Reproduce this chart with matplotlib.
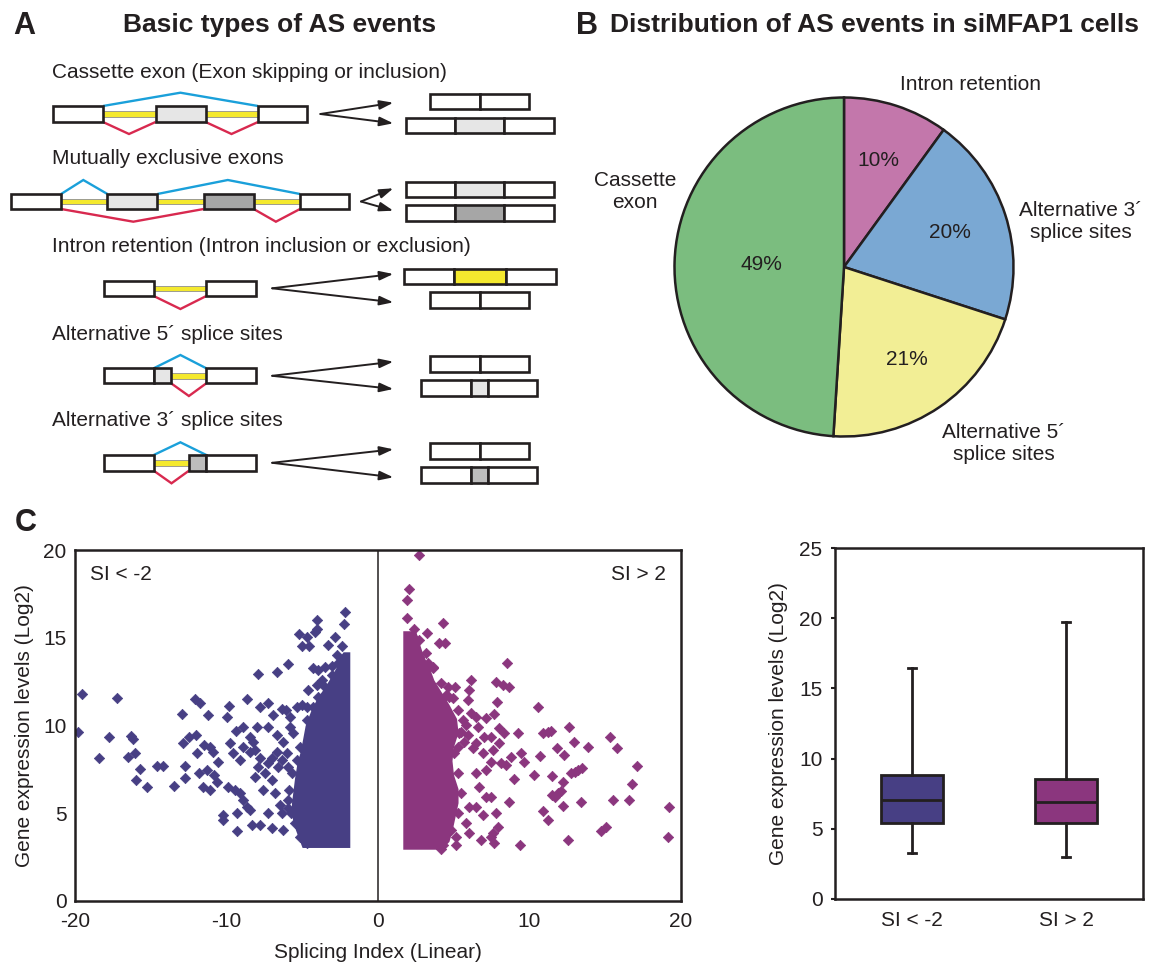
import matplotlib
matplotlib.use("Agg")
import matplotlib.pyplot as plt
from matplotlib.patches import Rectangle
import numpy as np

plt.rcParams["font.family"] = ["Liberation Sans", "DejaVu Sans"]
plt.rcParams["axes.unicode_minus"] = False
INK = "#231F20"

# ---------------- data ----------------
# B: distribution of AS event types
pie_labels = ["Intron retention", "Alternative 3\u00b4\nsplice sites",
              "Alternative 5\u00b4\nsplice sites", "Cassette\nexon"]
pie_values = [10, 20, 21, 49]
pie_colors = ["#C377AB", "#7AA8D3", "#F2EE95", "#7BBD7F"]

# C: individual events outside the dense core (SI, log2 expression)
left_x = [-19.56, -19.82, -17.25, -17.73, -18.39, -16.30, -16.15, -16.04, -16.52, -15.71,
          -15.99, -15.22, -14.61, -14.21, -13.44, -12.95, -12.85, -12.73, -12.73, -12.45,
          -12.03, -11.96, -12.07, -11.74, -11.24, -11.79, -11.30, -11.52, -11.08, -11.46,
          -11.08, -10.86, -10.80, -10.53, -10.64,
          -2.17, -2.23, -4.04, -5.18, -4.70, -4.15, -4.00, -5.03, -4.52, -2.83,
          -3.27, -2.39, -2.72, -2.28, -5.91, -6.64, -7.89, -4.26, -3.93, -3.49,
          -3.05, -4.59, -4.04, -3.71, -8.66, -9.81, -9.98, -7.78, -7.23, -6.90,
          -6.35, -6.06, -5.80, -5.36, -5.03, -4.70, -9.37, -8.93, -8.00, -8.44,
          -8.22, -7.23, -6.68, -6.24, -5.80, -5.58, -9.76, -9.54, -9.10, -8.88,
          -8.44, -8.11, -7.78, -9.87, -9.43, -9.10, -8.88, -8.66, -10.20, -10.20,
          -9.32, -8.44, -9.32, -8.33, -7.78, -7.23, -7.01, -7.56, -7.01, -6.79,
          -7.89, -8.11, -7.45, -7.23, -6.57, -6.68, -7.01, -6.35, -6.02, -5.91,
          -6.46, -6.35, -5.91, -6.24, -5.14, -4.70, -4.48, -4.04,
          -5.14, -5.36, -5.69, -5.84, -5.91, -5.75, -5.47, -5.14, -4.70, -4.26,
          -3.93, -3.49, -3.05, -2.61]
left_y = [11.78, 9.65, 11.59, 9.33, 8.13, 9.40, 9.21, 8.45, 8.22, 7.50,
          6.89, 6.48, 7.71, 7.71, 6.55, 10.66, 9.02, 7.69, 6.99, 9.36,
          9.46, 8.42, 11.49, 11.30, 10.60, 7.31, 7.46, 6.51, 6.32, 8.89,
          8.79, 8.51, 7.18, 7.94, 6.80,
          16.48, 15.76, 16.01, 15.21, 15.06, 15.35, 15.48, 14.53, 14.53, 15.02,
          14.59, 14.53, 14.02, 13.83, 13.50, 13.03, 12.92, 13.26, 13.16, 13.32,
          13.39, 12.02, 12.31, 12.59, 11.49, 11.13, 10.50, 11.07, 11.30, 10.60,
          10.96, 10.88, 10.50, 11.07, 11.17, 11.07, 9.70, 9.89, 9.93, 9.36,
          9.08, 9.93, 9.46, 9.08, 9.93, 9.56, 8.99, 8.42, 8.03, 8.79,
          8.51, 8.60, 8.13, 6.51, 6.32, 6.14, 5.76, 5.37, 4.90, 4.62,
          5.00, 5.19, 4.01, 4.33, 4.33, 5.00, 4.14, 6.32, 6.89, 6.14,
          7.65, 7.08, 7.28, 7.85, 7.65, 8.51, 8.13, 8.03, 8.42, 7.65,
          5.47, 5.00, 5.28, 4.05, 4.23, 3.29, 3.86, 3.48,
          8.79, 8.03, 7.28, 6.32, 5.75, 5.00, 4.43, 3.67, 10.31, 11.07,
          11.64, 12.21, 12.88, 13.54]

right_x = [2.70, 2.08, 1.91, 1.91, 4.29, 3.25, 4.02, 4.44, 2.41, 2.08,
           2.52, 2.74, 3.30, 3.63, 8.53, 6.16, 6.05, 5.94, 7.81, 8.25,
           8.65, 4.61, 5.12, 4.94, 4.50, 7.85, 6.16, 6.49, 7.15, 7.70,
           5.83, 5.50, 5.94, 6.60, 7.04, 7.48, 8.03, 8.36, 9.24, 5.28,
           5.71, 6.27, 6.49, 6.93, 7.59, 8.03, 9.46, 9.68, 8.80, 8.47,
           8.14, 7.48, 10.30, 9.02, 6.49, 7.15, 6.71, 7.15, 7.48, 8.69,
           6.04, 6.49, 6.93, 7.81, 7.92, 7.59, 5.83, 6.04, 5.17, 6.82,
           7.48, 7.70, 4.17, 5.17, 9.39,
           10.60, 10.93, 11.26, 11.42, 12.65, 12.96, 13.86, 15.34, 15.82, 10.71,
           11.82, 12.32, 11.53, 12.25, 12.74, 13.03, 13.25, 13.51, 11.48, 11.70,
           11.92, 12.08, 12.25, 13.40, 10.89, 11.26, 12.58, 15.56, 16.59, 16.77,
           17.14, 14.74, 15.05, 19.23, 19.19,
           2.70, 3.18, 3.63, 4.17, 4.72, 5.28, 5.65, 5.38, 5.05, 5.28,
           5.50, 5.28, 4.83, 4.29]
right_y = [19.72, 17.76, 17.15, 16.11, 15.86, 15.29, 14.68, 14.68, 15.48, 15.06,
           14.87, 13.92, 13.54, 13.26, 13.58, 12.59, 12.02, 11.45, 12.50, 12.31,
           12.21, 12.21, 12.21, 11.55, 11.74, 11.36, 10.70, 10.50, 10.41, 10.66,
           10.03, 9.65, 9.46, 9.93, 9.36, 9.36, 9.84, 9.56, 9.56, 8.79,
           9.08, 8.70, 8.99, 8.42, 8.60, 8.99, 8.42, 7.94, 8.22, 7.75,
           7.85, 7.94, 7.18, 6.93, 7.28, 7.46, 6.51, 5.94, 5.94, 5.66,
           5.37, 5.37, 4.90, 5.00, 4.23, 3.86, 4.43, 3.86, 3.67, 3.48,
           3.67, 3.29, 2.95, 3.19, 3.19,
           11.04, 9.56, 9.65, 9.70, 9.93, 9.08, 8.76, 9.36, 8.74, 8.26,
           8.70, 8.32, 7.14, 6.80, 7.28, 7.37, 7.46, 7.60, 6.04, 5.94,
           6.14, 6.28, 5.41, 5.62, 5.15, 4.62, 3.48, 5.75, 5.75, 6.67,
           7.71, 4.01, 4.20, 5.37, 3.67,
           14.87, 14.11, 13.35, 12.40, 11.64, 10.88, 10.31, 9.56, 8.42, 7.28,
           6.14, 5.00, 4.05, 3.19]

# C: outline of the solid, overplotted core of each group
left_core_y = [3.05, 3.5, 4.2, 4.9, 5.6, 6.3, 7.0, 7.8, 8.6, 9.3, 10.0, 10.8, 11.6, 12.2, 13.0, 13.8, 14.2]
left_core_xmin = [-5.0, -5.2, -5.5, -5.7, -5.7, -5.6, -5.5, -5.35, -5.1, -4.95, -4.8, -4.45, -4.0, -3.5, -2.95, -2.45, -2.3]
left_core_xmax = [-1.85] * len(left_core_y)
right_core_y = [2.95, 3.4, 4.0, 4.8, 5.6, 6.4, 7.2, 8.0, 8.8, 9.6, 10.4, 11.2, 11.9, 12.6, 13.3, 14.0, 14.8, 15.4]
right_core_xmin = [1.65] * len(right_core_y)
right_core_xmax = [4.2, 4.7, 4.9, 5.1, 5.3, 5.3, 5.0, 4.9, 5.0, 5.3, 5.2, 4.7, 4.2, 3.7, 3.4, 3.0, 2.7, 2.5]

# C: summary statistics of both groups
box_labels = ["SI < -2", "SI > 2"]
box_whislo = [3.28, 2.99]
box_q1 = [5.43, 5.43]
box_med = [7.03, 6.90]
box_q3 = [8.81, 8.52]
box_whishi = [16.45, 19.70]

LEFT_C = "#473F84"
RIGHT_C = "#8B367E"

# ---------------- figure ----------------
W, H = 1150, 964
fig = plt.figure(figsize=(W / 100, H / 100), dpi=100)

# full-size canvas in pixel units for panel A drawings and labels
ax0 = fig.add_axes([0, 0, 1, 1])
ax0.set_xlim(0, W)
ax0.set_ylim(H, 0)
ax0.axis("off")

BLUE = "#1AA0DA"
RED = "#D8294F"
YEL = "#F4E92E"
LIGHT = "#E6E6E6"
MID = "#BDBDBD"
DARK = "#A6A6A6"


def box_row(segments, y0, y1):
    for x0, x1, fc in segments:
        ax0.add_patch(Rectangle((x0, y0), x1 - x0, y1 - y0, facecolor=fc,
                                edgecolor=INK, lw=1.9, zorder=4, joinstyle="miter"))


def intron(x0, x1, yc):
    ax0.add_patch(Rectangle((x0, yc - 2.8), x1 - x0, 5.6, facecolor=YEL,
                            edgecolor="#8E8E8E", lw=0.6, zorder=3))


def junction(xs, ys, color):
    ax0.plot(xs, ys, color=color, lw=1.7, zorder=3, solid_joinstyle="miter",
             solid_capstyle="butt")


def fork(x0, y0, ya, yb, x1=393.3):
    for yy in (ya, yb):
        ax0.annotate("", xy=(x1, yy), xytext=(x0, y0),
                     arrowprops=dict(arrowstyle="-|>,head_length=0.75,head_width=0.25",
                                     color=INK, lw=1.4, shrinkA=0, shrinkB=0,
                                     mutation_scale=11))


txt = dict(fontsize=15, color=INK, va="center", ha="left")

# Cassette exon
ax0.text(52, 72, "Cassette exon (Exon skipping or inclusion)", **txt)
intron(103, 155.6, 114)
intron(205.6, 258, 114)
box_row([(53, 103, "white"), (155.6, 205.6, LIGHT), (258, 307.4, "white")], 106, 122)
junction([103, 180.4, 258], [106, 92.7, 106], BLUE)
junction([103, 129, 155.6], [122, 134, 122], RED)
junction([205.6, 231.5, 258], [122, 134, 122], RED)
fork(320.4, 114, 102.7, 123.3)
box_row([(429.6, 479.6, "white"), (479.6, 528.9, "white")], 94, 109.3)
box_row([(405.6, 454.8, "white"), (454.8, 503.7, LIGHT), (503.7, 553.7, "white")], 117.7, 133.3)

# Mutually exclusive exons
ax0.text(52, 159, "Mutually exclusive exons", **txt)
intron(61.1, 107.4, 201.5)
intron(157.4, 203.7, 201.5)
intron(253.7, 300, 201.5)
box_row([(11.1, 61.1, "white"), (107.4, 157.4, LIGHT), (203.7, 253.7, DARK),
         (300, 349.3, "white")], 194, 209)
junction([61.1, 83.3, 107.4], [194, 180, 194], BLUE)
junction([157.4, 227.8, 300], [194, 180, 194], BLUE)
junction([61.1, 133.3, 203.7], [209, 221.7, 209], RED)
junction([253.7, 275.9, 300], [209, 221.7, 209], RED)
fork(361, 201.5, 188.3, 210.7)
box_row([(405.6, 454.8, "white"), (454.8, 503.7, LIGHT), (503.7, 553.7, "white")], 181.7, 196.7)
box_row([(405.6, 454.8, "white"), (454.8, 503.7, DARK), (503.7, 553.7, "white")], 205, 220.7)

# Intron retention
ax0.text(52, 246, "Intron retention (Intron inclusion or exclusion)", **txt)
intron(153.7, 206.3, 288.3)
box_row([(103.7, 153.7, "white"), (206.3, 256.3, "white")], 280.7, 296)
junction([153.7, 180.4, 206.3], [296, 309, 296], RED)
fork(272.2, 288.3, 274, 302.3)
box_row([(403.7, 453.7, "white"), (453.7, 505.6, YEL), (505.6, 555.6, "white")], 269, 284)
box_row([(429.6, 479.6, "white"), (479.6, 528.9, "white")], 292.3, 307.7)

# Alternative 5' splice sites
ax0.text(52, 334, "Alternative 5\u00b4 splice sites", **txt)
intron(171.1, 206.3, 375.8)
box_row([(103.7, 153.7, "white"), (153.7, 171.1, LIGHT), (206.3, 256.3, "white")], 368.3, 383.3)
junction([153.7, 180.4, 206.3], [368.3, 355, 368.3], BLUE)
junction([171.1, 188.9, 206.3], [383.3, 396, 383.3], RED)
fork(272.2, 375.8, 361.7, 389)
box_row([(429.6, 479.6, "white"), (479.6, 528.9, "white")], 356, 371.7)
box_row([(421.1, 471.1, "white"), (471.1, 488.1, LIGHT), (488.1, 537, "white")], 380, 395.7)

# Alternative 3' splice sites
ax0.text(52, 421, "Alternative 3\u00b4 splice sites", **txt)
intron(153.7, 188.9, 462.8)
box_row([(103.7, 153.7, "white"), (188.9, 206.3, MID), (206.3, 256.3, "white")], 455, 470.7)
junction([153.7, 180.4, 206.3], [455, 442.3, 455], BLUE)
junction([153.7, 171.5, 188.9], [470.7, 483.3, 470.7], RED)
fork(272.2, 462.8, 449.3, 477.3)
box_row([(429.6, 479.6, "white"), (479.6, 528.9, "white")], 443.3, 459)
box_row([(421.1, 471.1, "white"), (471.1, 488.1, MID), (488.1, 537, "white")], 467.3, 483.3)

# panel letters and titles
ax0.text(24, 26, "A", fontsize=22, fontweight="bold", color=INK, ha="center", va="center")
ax0.text(587, 26, "B", fontsize=22, fontweight="bold", color=INK, ha="center", va="center")
ax0.text(26, 523, "C", fontsize=22, fontweight="bold", color=INK, ha="center", va="center")
ax0.text(280, 25, "Basic types of AS events", fontsize=19, fontweight="bold",
         color=INK, ha="center", va="center")
ax0.text(874, 25, "Distribution of AS events in siMFAP1 cells", fontsize=19,
         fontweight="bold", color=INK, ha="center", va="center")

# ---------------- B: pie ----------------
axp = fig.add_axes([674.5 / W, 1 - 436.5 / H, 339 / W, 339 / H])
wedges, _ = axp.pie(pie_values, colors=pie_colors, startangle=90, counterclock=False,
                    wedgeprops=dict(edgecolor=INK, linewidth=1.8))
axp.set_aspect("auto")
axp.set_xlim(-1, 1)
axp.set_ylim(-1, 1)
for w in wedges:
    w.set_clip_on(False)
pct_radius = [0.66, 0.66, 0.66, 0.49]
for w, v, r in zip(wedges, pie_values, pct_radius):
    ang = np.deg2rad((w.theta1 + w.theta2) / 2)
    axp.text(r * np.cos(ang), r * np.sin(ang), f"{v}%", fontsize=15, color=INK,
             ha="center", va="center")

label_pos = [(971, 84), (1081, 221), (1004, 444), (635, 192)]
for lab, (px, py) in zip(pie_labels, label_pos):
    ax0.text(px, py, lab, fontsize=15, color=INK, ha="center", va="center",
             multialignment="center", linespacing=1.2)

# ---------------- C: scatter ----------------
axs = fig.add_axes([75 / W, 1 - 901 / H, 605.6 / W, 351 / H])
axs.fill_betweenx(left_core_y, left_core_xmin, left_core_xmax, color=LEFT_C, lw=0)
axs.fill_betweenx(right_core_y, right_core_xmin, right_core_xmax, color=RIGHT_C, lw=0)
axs.scatter(left_x, left_y, marker="D", s=28, color=LEFT_C, linewidths=0.5)
axs.scatter(right_x, right_y, marker="D", s=28, color=RIGHT_C, linewidths=0.5)
axs.axvline(0, color=INK, lw=1.1)
axs.set_xlim(-20, 20)
axs.set_ylim(0, 20)
axs.set_xticks([-20, -10, 0, 10, 20])
axs.set_yticks([0, 5, 10, 15, 20])
axs.tick_params(length=0, labelsize=15, labelcolor=INK)
axs.tick_params(axis="x", pad=8)
axs.tick_params(axis="y", pad=6)
for sp in axs.spines.values():
    sp.set_linewidth(1.8)
    sp.set_color(INK)
axs.set_xlabel("Splicing Index (Linear)", fontsize=15, color=INK)
axs.xaxis.label.set_va("center")
axs.xaxis.set_label_coords(0.5, -0.148)
axs.set_ylabel("Gene expression levels (Log2)", fontsize=15, color=INK)
axs.yaxis.label.set_va("center")
axs.yaxis.set_label_coords(-0.083, 0.5)
axs.text(0.024, 0.93, "SI < -2", transform=axs.transAxes, fontsize=15, color=INK,
         ha="left", va="center")
axs.text(0.975, 0.93, "SI > 2", transform=axs.transAxes, fontsize=15, color=INK,
         ha="right", va="center")

# ---------------- C: box plot ----------------
axb = fig.add_axes([835 / W, 1 - 899 / H, 308 / W, 351 / H])
stats = [dict(label=l, whislo=a, q1=b, med=c, q3=d, whishi=e, fliers=[])
         for l, a, b, c, d, e in zip(box_labels, box_whislo, box_q1, box_med, box_q3, box_whishi)]
bp = axb.bxp(stats, positions=[1, 2], widths=0.4, patch_artist=True, showfliers=False,
             capwidths=0.05,
             boxprops=dict(linewidth=2.0, edgecolor=INK),
             medianprops=dict(color=INK, linewidth=2.0),
             whiskerprops=dict(color=INK, linewidth=2.0),
             capprops=dict(color=INK, linewidth=2.0))
for patch, fc in zip(bp["boxes"], [LEFT_C, RIGHT_C]):
    patch.set_facecolor(fc)
axb.set_xlim(0.5, 2.5)
axb.set_ylim(0, 25)
axb.set_yticks([0, 5, 10, 15, 20, 25])
axb.tick_params(labelsize=15, labelcolor=INK)
axb.tick_params(axis="x", length=0, pad=9)
axb.tick_params(axis="y", length=3, width=1.5, pad=6, color=INK)
for sp in axb.spines.values():
    sp.set_linewidth(1.8)
    sp.set_color(INK)
axb.set_ylabel("Gene expression levels (Log2)", fontsize=15, color=INK)
axb.yaxis.label.set_va("center")
axb.yaxis.set_label_coords(-0.184, 0.5)

fig.savefig("out.png", dpi=100)
